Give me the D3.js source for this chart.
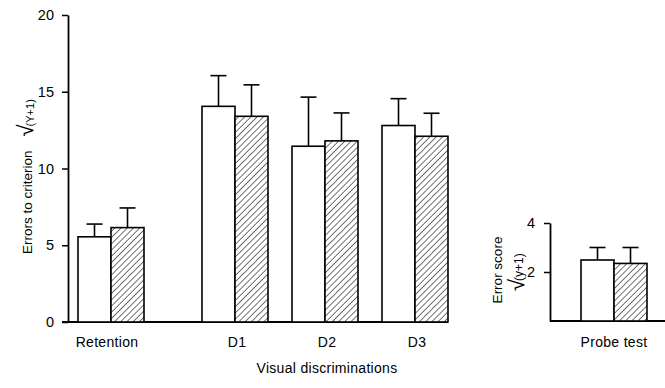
<html>
  <head>
    <title>Errors to criterion</title>
    <script src="https://cdnjs.cloudflare.com/ajax/libs/d3/7.8.5/d3.min.js"></script>
    <style type="text/css">
        * {
            padding: 0px;
            margin: 0px;
        }
        body {
            background: white;
        }
        text {
            font-family: "Liberation Sans", Arial, Helvetica, sans-serif;
            fill: black;
        }
    </style>
  </head>
  <body>
    <svg id="viz"></svg>
  </body>
</html>

<script language="javascript">

    // the chart data
    var groups = ["Retention", "D1", "D2", "D3"];
    var series = ["control", "lesion"];
    var controlMean = [5.55, 14.05, 11.45, 12.8];
    var controlSE = [0.83, 2.0, 3.2, 1.75];
    var lesionMean = [6.15, 13.4, 11.8, 12.1];
    var lesionSE = [1.28, 2.05, 1.82, 1.5];
    var yTicks = [0, 5, 10, 15, 20];

    var probeGroups = ["Probe test"];
    var probeControlMean = [2.49];
    var probeControlSE = [0.51];
    var probeLesionMean = [2.35];
    var probeLesionSE = [0.65];
    var probeTicks = [2, 4];

    var w = 665, h = 388;
    var barW = 33;

    var viz = d3.select("#viz")
        .attr("width", w)
        .attr("height", h);

    // hatch pattern for the second series
    var defs = viz.append("defs");
    var pat = defs.append("pattern")
        .attr("id", "hatch")
        .attr("patternUnits", "userSpaceOnUse")
        .attr("width", 4.4)
        .attr("height", 4.4)
        .attr("patternTransform", "rotate(45)");
    pat.append("rect").attr("width", 4.4).attr("height", 4.4).attr("fill", "white");
    pat.append("line")
        .attr("x1", 0).attr("y1", 0)
        .attr("x2", 0).attr("y2", 4.4)
        .attr("stroke", "black")
        .attr("stroke-width", 1.1);

    // scales for main panel
    var y = d3.scaleLinear().domain([0, 20]).range([322, 15]);
    var xRet = d3.scaleBand().domain(["Retention"]).range([66, 156]);
    var xD = d3.scaleBand().domain(["D1", "D2", "D3"]).range([190, 460]);
    var xSub = d3.scaleBand().domain(series).range([-barW, barW]);

    function groupCenter(g) {
        if (g == "Retention") return xRet(g) + xRet.bandwidth() / 2;
        return xD(g) + xD.bandwidth() / 2;
    }

    // main y axis
    var yAxis = d3.axisLeft(y)
        .tickValues(yTicks)
        .tickSize(6)
        .tickSizeOuter(0)
        .tickPadding(8);
    var ga = viz.append("g")
        .attr("transform", "translate(68,0)")
        .call(yAxis);
    ga.select(".domain").attr("stroke-width", 1.8);
    ga.selectAll(".tick line").attr("stroke-width", 1.5);
    ga.selectAll(".tick text")
        .style("font-size", "14.5px")
        .attr("fill", "black");

    // baseline
    viz.append("line")
        .attr("x1", 62).attr("x2", 448)
        .attr("y1", y(0)).attr("y2", y(0))
        .attr("stroke", "black")
        .attr("stroke-width", 1.8);

    function drawBars(g, xc, ys, mean, se, kind) {
        var x0 = xc + xSub(kind);
        // error bar
        var top = ys(mean + se);
        g.append("line")
            .attr("x1", x0 + barW / 2).attr("x2", x0 + barW / 2)
            .attr("y1", ys(mean)).attr("y2", top)
            .attr("stroke", "black").attr("stroke-width", 1.6);
        g.append("line")
            .attr("x1", x0 + barW / 2 - 8).attr("x2", x0 + barW / 2 + 8)
            .attr("y1", top).attr("y2", top)
            .attr("stroke", "black").attr("stroke-width", 1.6);
        g.append("rect")
            .attr("x", x0)
            .attr("y", ys(mean))
            .attr("width", barW)
            .attr("height", ys(0) - ys(mean))
            .attr("fill", kind == "control" ? "white" : "url(#hatch)")
            .attr("stroke", "black")
            .attr("stroke-width", 1.6);
    }

    var bars = viz.append("g");
    for (var i = 0; i < groups.length; i++) {
        var xc = groupCenter(groups[i]);
        drawBars(bars, xc, y, controlMean[i], controlSE[i], "control");
        drawBars(bars, xc, y, lesionMean[i], lesionSE[i], "lesion");
        bars.append("text")
            .attr("x", xc + (i == 0 ? -4 : 2))
            .attr("y", 347)
            .attr("text-anchor", "middle")
            .style("font-size", "14px")
            .style("letter-spacing", "0.3px")
            .text(groups[i]);
    }

    viz.append("text")
        .attr("x", 327)
        .attr("y", 373)
        .attr("text-anchor", "middle")
        .style("font-size", "14px")
        .style("letter-spacing", "0.3px")
        .text("Visual discriminations");

    // main y label
    var yl = viz.append("text")
        .attr("transform", "translate(32,254) rotate(-90)")
        .style("font-size", "13.5px");
    yl.append("tspan").text("Errors to criterion");
    yl.append("tspan").attr("dx", 14).attr("dy", 1).style("font-size", "22px").text("\u221A");
    yl.append("tspan").attr("dx", -2).attr("dy", 1).style("font-size", "11px").text("(Y+1)");

    // probe panel
    var yP = d3.scaleLinear().domain([0, 4]).range([321, 223]);
    var xP = d3.scaleBand().domain(probeGroups).range([569, 659]);

    var pAxis = d3.axisLeft(yP)
        .tickValues(probeTicks)
        .tickFormat(d3.format("d"))
        .tickSize(6)
        .tickSizeOuter(0)
        .tickPadding(9);
    var gp = viz.append("g")
        .attr("transform", "translate(550,0)")
        .call(pAxis);
    gp.select(".domain").attr("stroke-width", 1.8);
    gp.selectAll(".tick line").attr("stroke-width", 1.5);
    gp.selectAll(".tick text")
        .style("font-size", "14.5px")
        .attr("fill", "black");

    viz.append("line")
        .attr("x1", 550).attr("x2", 665)
        .attr("y1", yP(0)).attr("y2", yP(0))
        .attr("stroke", "black")
        .attr("stroke-width", 1.8);

    var pbars = viz.append("g");
    for (var j = 0; j < probeGroups.length; j++) {
        var pc = xP(probeGroups[j]) + xP.bandwidth() / 2;
        drawBars(pbars, pc, yP, probeControlMean[j], probeControlSE[j], "control");
        drawBars(pbars, pc, yP, probeLesionMean[j], probeLesionSE[j], "lesion");
        pbars.append("text")
            .attr("x", pc)
            .attr("y", 347)
            .attr("text-anchor", "middle")
            .style("font-size", "14px")
            .style("letter-spacing", "0.3px")
            .text(probeGroups[j]);
    }

    // probe y label, two lines
    viz.append("text")
        .attr("transform", "translate(502,270) rotate(-90)")
        .attr("text-anchor", "middle")
        .style("font-size", "13.5px")
        .text("Error score");
    var pl = viz.append("text")
        .attr("transform", "translate(524,291) rotate(-90)")
        .style("font-size", "22px");
    pl.append("tspan").text("\u221A");
    pl.append("tspan").attr("dx", -2).attr("dy", -1).style("font-size", "12px").text("(y+1)");

</script>
